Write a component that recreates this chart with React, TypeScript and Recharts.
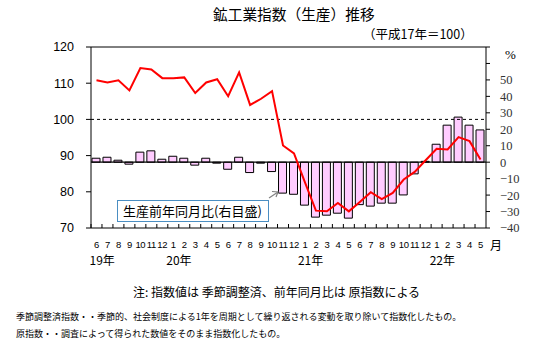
import React from "react";
import { ComposedChart, Bar, Line, XAxis, YAxis, ReferenceLine } from "recharts";

// 2019年6月〜2022年5月
const periods = [
  "2019-06", "2019-07", "2019-08", "2019-09", "2019-10", "2019-11", "2019-12",
  "2020-01", "2020-02", "2020-03", "2020-04", "2020-05", "2020-06", "2020-07",
  "2020-08", "2020-09", "2020-10", "2020-11", "2020-12",
  "2021-01", "2021-02", "2021-03", "2021-04", "2021-05", "2021-06", "2021-07",
  "2021-08", "2021-09", "2021-10", "2021-11", "2021-12",
  "2022-01", "2022-02", "2022-03", "2022-04", "2022-05",
];

// 生産指数（季節調整済、左目盛）
const productionIndex = [
  110.8, 110.2, 110.8, 108.0, 114.2, 113.8, 111.4,
  111.4, 111.6, 107.3, 110.2, 111.1, 106.4, 113.0,
  104.0, 105.7, 107.8, 92.8, 90.6,
  82.6, 74.8, 74.6, 76.9, 74.6, 77.2, 79.9,
  78.0, 79.7, 83.4, 85.5, 88.7,
  91.9, 91.7, 95.1, 94.0, 88.9,
];

// 生産前年同月比 %（右目盛）
const yoyChange = [
  2.4, 3.0, 1.2, -1.2, 6.1, 6.9, 1.8,
  3.6, 2.4, -1.8, 2.4, -0.6, -4.3, 3.0,
  -6.3, -0.6, -5.7, -18.8, -19.5,
  -26.1, -33.4, -32.2, -31.0, -34.0, -25.8, -26.7,
  -24.9, -24.9, -19.9, -7.1, 0.5,
  10.9, 22.5, 27.4, 22.5, 19.6,
];

const indexTicks = [70, 80, 90, 100, 110, 120];
const yoyTicks = [-40, -30, -20, -10, 0, 10, 20, 30, 40, 50, 60, 70];

const chartData = periods.map((p, i) => ({
  period: p,
  index: productionIndex[i],
  yoy: yoyChange[i],
}));

const jpFont = '"Noto Sans CJK JP", sans-serif';

function MonthTick(props: any) {
  const { x, y, payload, index } = props;
  const [yy, mm] = String(payload.value).split("-");
  const month = Number(mm);
  const band = (props.width || 395) / (props.visibleTicksCount || periods.length);
  const showYear = index === 0 || month === 1;
  return (
    <g>
      <line x1={x - band / 2} y1={y} x2={x - band / 2} y2={y - 4} stroke="#000" />
      <text
        x={x}
        y={y + 20}
        textAnchor="middle"
        fontSize={9.5}
        letterSpacing={-0.3}
        fontFamily='"Liberation Sans", Arial, sans-serif'
        fill="#000"
      >
        {month}
      </text>
      {showYear && (
        <text x={x - 7} y={y + 37} textAnchor="start" fontSize={12} fontFamily={jpFont} fill="#000">
          {yy.slice(2)}年
        </text>
      )}
    </g>
  );
}

const formatYoy = (v: number) => (v >= 60 ? "" : v < 0 ? "\u2212" + Math.abs(v) : String(v));

export default function App() {
  return (
    <div
      style={{
        position: "fixed",
        left: 0,
        top: 0,
        width: 544,
        height: 356,
        background: "#fff",
        fontFamily: jpFont,
        color: "#000",
      }}
    >
      <ComposedChart
        width={544}
        height={356}
        data={chartData}
        margin={{ top: 47, right: 8, left: 41, bottom: 98 }}
      >
        <XAxis
          dataKey="period"
          interval={0}
          tickLine={false}
          tickSize={0}
          tickMargin={0}
          axisLine={{ stroke: "#000" }}
          tick={<MonthTick />}
          height={30}
        />
        <YAxis
          yAxisId="left"
          orientation="left"
          domain={[70, 120]}
          ticks={indexTicks}
          interval={0}
          width={50}
          axisLine={{ stroke: "#000" }}
          tickLine={{ stroke: "#000" }}
          tickSize={5}
          tickMargin={12}
          tick={{ fill: "#000", fontSize: 12.5, fontFamily: '"Liberation Sans", Arial, sans-serif' }}
        />
        <YAxis
          yAxisId="right"
          orientation="right"
          domain={[-40, 70]}
          ticks={yoyTicks}
          interval={0}
          width={50}
          axisLine={{ stroke: "#000" }}
          tickLine={{ stroke: "#000" }}
          tickSize={4}
          tickMargin={10}
          tickFormatter={formatYoy}
          tick={{ fill: "#333", fontSize: 12.5, fontFamily: '"Liberation Serif", "Times New Roman", serif' }}
        />
        <Bar
          yAxisId="right"
          dataKey="yoy"
          fill="#ffccff"
          stroke="#000"
          strokeWidth={1}
          barSize={8}
          isAnimationActive={false}
        />
        <ReferenceLine yAxisId="right" y={0} stroke="#000" strokeWidth={1.2} />
        <ReferenceLine yAxisId="left" y={100} stroke="#000" strokeDasharray="3 3" />
        <ReferenceLine yAxisId="left" y={120} stroke="#000" />
        <Line
          yAxisId="left"
          type="linear"
          dataKey="index"
          stroke="#ff0000"
          strokeWidth={2}
          dot={false}
          isAnimationActive={false}
        />
      </ComposedChart>

      <div style={{ position: "absolute", left: 213, top: 7, fontSize: 14.7, lineHeight: 1, whiteSpace: "nowrap" }}>
        鉱工業指数（生産）推移
      </div>
      <div style={{ position: "absolute", left: 363, top: 28, fontSize: 12.5, lineHeight: 1, whiteSpace: "nowrap" }}>
        （平成17年＝100）
      </div>
      <div
        style={{
          position: "absolute",
          left: 505,
          top: 48,
          fontSize: 13,
          lineHeight: 1,
          fontFamily: '"Liberation Serif", serif',
        }}
      >
        %
      </div>
      <div style={{ position: "absolute", left: 490, top: 239, fontSize: 12, lineHeight: 1 }}>月</div>

      <div
        style={{
          position: "absolute",
          left: 117,
          top: 200,
          width: 152,
          height: 22,
          boxSizing: "border-box",
          border: "1px solid #4a8ec2",
          background: "#fff",
          fontSize: 13,
          lineHeight: "20px",
          paddingLeft: 5,
          whiteSpace: "nowrap",
        }}
      >
        生産前年同月比(右目盛)
      </div>
      <svg style={{ position: "absolute", left: 0, top: 0 }} width={544} height={356} pointerEvents="none">
        <line x1={269} y1={198} x2={278} y2={192} stroke="#808080" strokeWidth={1.2} />
        <polyline points="272,191.5 278,192 276,197" fill="none" stroke="#808080" strokeWidth={1.2} />
      </svg>

      <div style={{ position: "absolute", left: 133, top: 286, fontSize: 12, lineHeight: 1, whiteSpace: "nowrap" }}>
        注: 指数値は 季節調整済、前年同月比は 原指数による
      </div>
      <div style={{ position: "absolute", left: 16, top: 311.5, fontSize: 9, lineHeight: 1, whiteSpace: "nowrap" }}>
        季節調整済指数・・季節的、社会制度による1年を周期として繰り返される変動を取り除いて指数化したもの。
      </div>
      <div style={{ position: "absolute", left: 16, top: 328.5, fontSize: 9, lineHeight: 1, whiteSpace: "nowrap" }}>
        原指数・・調査によって得られた数値をそのまま指数化したもの。
      </div>
    </div>
  );
}
